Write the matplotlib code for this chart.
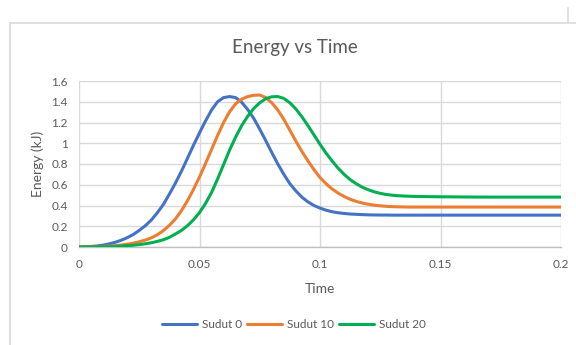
import matplotlib
matplotlib.use("Agg")
import matplotlib.pyplot as plt
from matplotlib.lines import Line2D
from matplotlib.patches import Rectangle

# Energy readings (kJ) sampled at a common set of times
time = [
    0.0, 0.0025, 0.005, 0.0075, 0.01, 0.0125, 0.015, 0.0175, 0.02, 0.0225,
    0.025, 0.0275, 0.03, 0.0325, 0.035, 0.0375, 0.04, 0.0425, 0.045, 0.0475,
    0.05, 0.0525, 0.055, 0.0575, 0.06, 0.0625, 0.065, 0.0675, 0.07, 0.0725,
    0.075, 0.0775, 0.08, 0.0825, 0.085, 0.0875, 0.09, 0.0925, 0.095, 0.0975,
    0.1, 0.1025, 0.105, 0.1075, 0.11, 0.1125, 0.115, 0.1175, 0.12, 0.1225,
    0.125, 0.1275, 0.13, 0.1325, 0.135, 0.1375, 0.14,
    0.15, 0.16, 0.17, 0.18, 0.19, 0.2,
]

sudut_0 = [
    0.0, 0.002, 0.005, 0.010, 0.018, 0.030, 0.045, 0.065, 0.090, 0.120,
    0.160, 0.205, 0.260, 0.330, 0.410, 0.510, 0.615, 0.730, 0.855, 0.980,
    1.100, 1.215, 1.320, 1.400, 1.440, 1.450, 1.440, 1.395, 1.325, 1.240,
    1.135, 1.025, 0.910, 0.800, 0.700, 0.610, 0.540, 0.480, 0.435, 0.400,
    0.375, 0.355, 0.340, 0.330, 0.323, 0.318, 0.315, 0.312, 0.310, 0.309,
    0.308, 0.308, 0.307, 0.307, 0.307, 0.307, 0.307,
    0.307, 0.307, 0.307, 0.307, 0.307, 0.307,
]

sudut_10 = [
    0.0, 0.001, 0.002, 0.004, 0.006, 0.009, 0.013, 0.019, 0.027, 0.037,
    0.050, 0.067, 0.088, 0.118, 0.158, 0.208, 0.270, 0.350, 0.445, 0.555,
    0.675, 0.805, 0.940, 1.075, 1.200, 1.305, 1.380, 1.425, 1.450, 1.462,
    1.465, 1.440, 1.390, 1.320, 1.230, 1.125, 1.020, 0.920, 0.830, 0.745,
    0.670, 0.610, 0.560, 0.520, 0.487, 0.460, 0.440, 0.424, 0.412, 0.403,
    0.397, 0.392, 0.389, 0.387, 0.386, 0.385, 0.385,
    0.385, 0.385, 0.385, 0.385, 0.385, 0.385,
]

sudut_20 = [
    0.0, 0.0, 0.001, 0.002, 0.003, 0.004, 0.006, 0.009, 0.012, 0.017,
    0.023, 0.031, 0.041, 0.054, 0.070, 0.093, 0.125, 0.160, 0.205, 0.262,
    0.332, 0.420, 0.525, 0.655, 0.795, 0.935, 1.060, 1.170, 1.260, 1.335,
    1.390, 1.430, 1.448, 1.450, 1.432, 1.390, 1.330, 1.255, 1.170, 1.080,
    0.990, 0.905, 0.830, 0.760, 0.700, 0.650, 0.610, 0.577, 0.552, 0.532,
    0.517, 0.506, 0.499, 0.494, 0.491, 0.489, 0.487,
    0.484, 0.482, 0.481, 0.481, 0.481, 0.481,
]

series_labels = ["Sudut 0", "Sudut 10", "Sudut 20"]
series_colors = ["#4472C4", "#ED7D31", "#00B050"]

x_ticks = [0, 0.05, 0.1, 0.15, 0.2]
x_tick_labels = ["0", "0.05", "0.1", "0.15", "0.2"]
y_ticks = [0, 0.2, 0.4, 0.6, 0.8, 1.0, 1.2, 1.4, 1.6]
y_tick_labels = ["0", "0.2", "0.4", "0.6", "0.8", "1", "1.2", "1.4", "1.6"]

text_color = "#595959"
grid_color = "#D9D9D9"

plt.rcParams["font.family"] = ["Lato", "DejaVu Sans"]

fig = plt.figure(figsize=(5.76, 3.45), dpi=100)
W, H = 576, 345

# chart frame (runs off the right and bottom edges)
fig.patches.append(Rectangle((10 / W, -0.1), 1.2, (H - 23) / H + 0.1,
                             transform=fig.transFigure, fill=False,
                             edgecolor="#D9D9D9", linewidth=1.2))
fig.lines.append(Line2D([567.5 / W, 567.5 / W], [1 - 8 / H, 1 - 23 / H],
                        transform=fig.transFigure, color="#D9D9D9", linewidth=1.2))

ax = fig.add_axes([79 / W, 1 - 247 / H, (561 - 79) / W, (247 - 81) / H])

for values, label, color in zip([sudut_0, sudut_10, sudut_20], series_labels, series_colors):
    ax.plot(time, values, color=color, linewidth=2.2, label=label,
            solid_capstyle="round", zorder=3)

ax.set_xlim(0, 0.2)
ax.set_ylim(0, 1.6)
ax.set_xticks(x_ticks)
ax.set_xticklabels(x_tick_labels)
ax.set_yticks(y_ticks)
ax.set_yticklabels(y_tick_labels)
ax.tick_params(length=0, labelsize=8.5, colors=text_color, pad=9)
ax.tick_params(axis="y", pad=8)
ax.grid(True, color=grid_color, linewidth=1)
ax.set_axisbelow(True)
for side in ["top", "right", "left"]:
    ax.spines[side].set_visible(False)
ax.spines["bottom"].set_color("#BFBFBF")
ax.spines["bottom"].set_linewidth(1)

ax.set_xlabel("Time", fontsize=10, color=text_color, labelpad=9)
ax.set_ylabel("Energy (kJ)", fontsize=10, color=text_color, labelpad=5)

fig.text(295 / W, 1 - 48 / H, "Energy vs Time", ha="center", va="center",
         fontsize=13.5, color=text_color)

ax.legend(loc="center", bbox_to_anchor=(294 / W, 1 - 325 / H),
          bbox_transform=fig.transFigure, ncol=3, frameon=False,
          fontsize=8.5, labelcolor=text_color, handlelength=3.0,
          handletextpad=0.4, columnspacing=0.4)

fig.savefig("out.png", dpi=100)
